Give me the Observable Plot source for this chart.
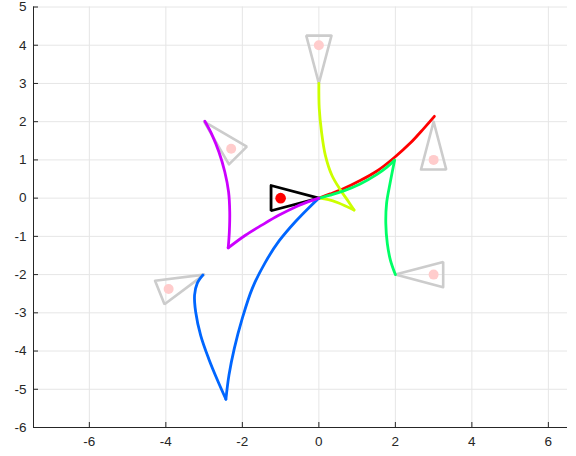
<!DOCTYPE html>
<html><head><meta charset="utf-8">
<script src="https://cdn.jsdelivr.net/npm/d3@7"></script>
<script src="https://cdn.jsdelivr.net/npm/@observablehq/plot@0.6"></script>
<style>html,body{margin:0;padding:0;background:#fff}</style>
</head><body><div id="chart"></div>
<script>
// tick labels
const xTicks = [-6, -4, -2, 0, 2, 4, 6];
const yTicks = [-6, -5, -4, -3, -2, -1, 0, 1, 2, 3, 4, 5];

// robot pose (tip x, tip y, heading deg)
const robotPose = [0, 0, 0];
// goal poses (tip positions and headings)
const goalX = [3, 0, 2, -3, -3];
const goalY = [2, 3, -2, -2, 2];
const goalTheta = [90, -90, 180, 22, 135];
const pathColors = ["#ff0000", "#ccff00", "#00ff66", "#0066ff", "#cc00ff"];

// paths (each split at its cusp)
const redPath = [[0,0],[0.3,0.11],[0.65,0.25],[1.08,0.46],[1.52,0.71],[1.96,1.05],[2.39,1.44],[2.74,1.82],[3.02,2.14]];
const yellowPathA = [[0,0],[0.25,-0.04],[0.5,-0.12],[0.92,-0.31]];
const yellowPathB = [[0.92,-0.31],[0.78,-0.1],[0.56,0.22],[0.34,0.6],[0.17,1.12],[0.07,1.73],[0.01,2.35],[0,3]];
const greenPathA = [[0,0],[0.3,0.08],[0.65,0.19],[1.08,0.37],[1.52,0.62],[1.78,0.81],[1.98,0.99]];
const greenPathB = [[1.98,0.99],[1.86,0.38],[1.77,-0.14],[1.75,-0.66],[1.79,-1.19],[1.87,-1.62],[2.0,-2.0]];
const bluePathA = [[0,0],[-0.18,-0.17],[-0.61,-0.61],[-1.04,-1.12],[-1.4,-1.68],[-1.74,-2.36],[-2.0,-3.14],[-2.21,-3.93],[-2.35,-4.63],[-2.43,-5.26]];
const bluePathB = [[-2.43,-5.26],[-2.63,-4.81],[-2.88,-4.2],[-3.09,-3.59],[-3.22,-2.98],[-3.25,-2.54],[-3.18,-2.23],[-3.03,-2.01]];
const purplePathA = [[0,0],[-0.18,-0.06],[-0.61,-0.23],[-1.05,-0.45],[-1.48,-0.7],[-1.92,-0.97],[-2.37,-1.3]];
const purplePathB = [[-2.37,-1.3],[-2.34,-0.88],[-2.33,-0.36],[-2.36,0.16],[-2.46,0.69],[-2.61,1.2],[-2.79,1.65],[-2.98,2.01]];

const pathSets = [
  [redPath], [yellowPathA, yellowPathB], [greenPathA, greenPathB],
  [bluePathA, bluePathB], [purplePathA, purplePathB]
];

// vehicle glyph geometry (triangle length / half width / marker offset)
const glyph = {len: 1.25, half: 0.33, mark: 1.0};

function triangle(x, y, deg, id) {
  const t = deg * Math.PI / 180, c = Math.cos(t), s = Math.sin(t);
  const bx = x - glyph.len * c, by = y - glyph.len * s;
  const v1 = [bx - glyph.half * s, by + glyph.half * c];
  const v2 = [bx + glyph.half * s, by - glyph.half * c];
  return [[x, y], v1, v2, [x, y], v1].map(([px, py]) => ({x: px, y: py, id}));
}
function marker(x, y, deg) {
  const t = deg * Math.PI / 180;
  return {x: x - glyph.mark * Math.cos(t), y: y - glyph.mark * Math.sin(t)};
}

const goalTri = goalX.flatMap((x, i) => triangle(x, goalY[i], goalTheta[i], i));
const goalDots = goalX.map((x, i) => marker(x, goalY[i], goalTheta[i]));
const robotTri = triangle(robotPose[0], robotPose[1], robotPose[2], 0);
const robotDot = [marker(robotPose[0], robotPose[1], robotPose[2])];

const pathRows = [];
pathSets.forEach((segs, ci) => segs.forEach((seg, si) =>
  seg.forEach(([x, y]) => pathRows.push({x, y, z: ci + "-" + si, c: pathColors[ci]}))));

const axisColor = "#262626";
const gridColor = "#e6e6e6";
const xMin = -7.46, xMax = 6.5;

const chart = Plot.plot({
  width: 576, height: 456,
  marginLeft: 33, marginRight: 9, marginTop: 6.5, marginBottom: 29,
  x: {domain: [xMin, xMax]},
  y: {domain: [-6, 5]},
  style: {fontFamily: "'Liberation Sans', Arial, Helvetica, sans-serif", fontSize: "13px", color: axisColor, background: "#fff"},
  marks: [
    Plot.gridX(xTicks, {stroke: gridColor, strokeOpacity: 1}),
    Plot.gridY(yTicks, {stroke: gridColor, strokeOpacity: 1}),
    Plot.ruleY([-6], {stroke: axisColor}),
    Plot.ruleX([xMin], {stroke: axisColor}),
    Plot.axisX(xTicks, {tickSize: 5, dy: -5, tickFormat: () => "", stroke: axisColor, label: null}),
    Plot.axisY(yTicks, {tickSize: 5, dx: 5, tickFormat: () => "", stroke: axisColor, label: null}),
    Plot.axisX(xTicks, {tickSize: 0, tickPadding: 9, tickFormat: d => String(d), fill: axisColor, fontSize: 13.5, label: null}),
    Plot.axisY(yTicks, {tickSize: 0, tickPadding: 7, tickFormat: d => String(d), fill: axisColor, fontSize: 13.5, label: null}),
    Plot.line(goalTri, {x: "x", y: "y", z: "id", stroke: "#cccccc", strokeWidth: 2.6, strokeLinejoin: "miter", curve: "linear"}),
    Plot.dot(goalDots, {x: "x", y: "y", r: 5, fill: "#ffcccc", stroke: null}),
    Plot.line(robotTri, {x: "x", y: "y", z: "id", stroke: "#000000", strokeWidth: 2.8, strokeLinejoin: "miter", curve: "linear"}),
    Plot.dot(robotDot, {x: "x", y: "y", r: 5.3, fill: "#ff0000", stroke: null}),
    Plot.line(pathRows, {x: "x", y: "y", z: "z", stroke: "c", strokeWidth: 2.8, curve: "catmull-rom"})
  ]
});
document.getElementById("chart").appendChild(chart);
</script>
</body></html>
